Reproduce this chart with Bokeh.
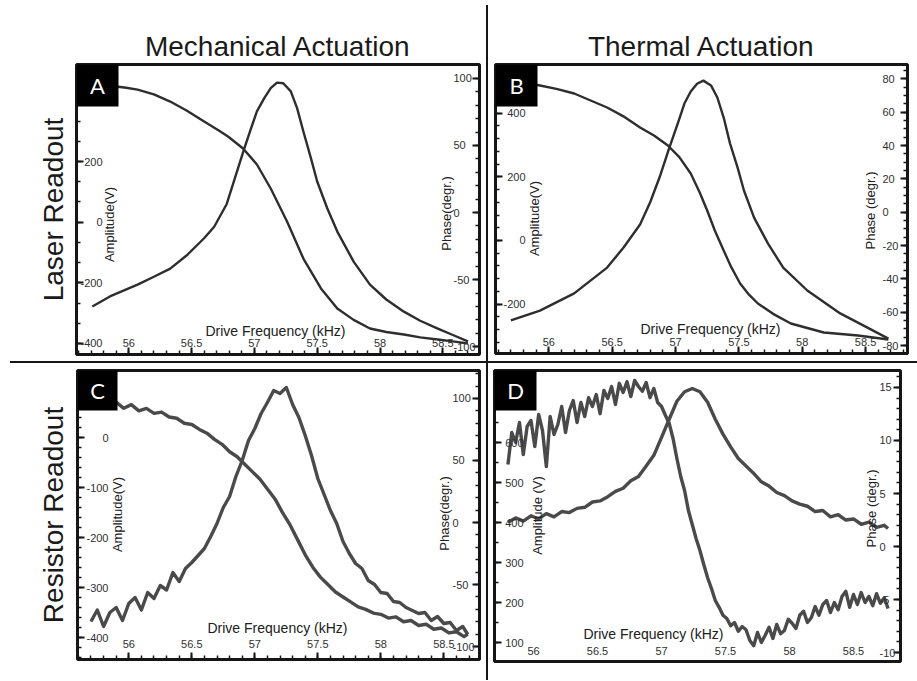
from math import pi
import numpy as np
from bokeh.plotting import figure
from bokeh.models import Range1d, LinearAxis, FixedTicker, Label, BoxAnnotation, Spacer, Title
from bokeh.layouts import column, row
from bokeh.embed import file_html
from bokeh.resources import INLINE

# ---------------- data ----------------
col_titles = ["Mechanical Actuation", "Thermal Actuation"]
row_titles = ["Laser Readout", "Resistor Readout"]
x_ticks = [56, 56.5, 57, 57.5, 58, 58.5]
x_tick_labels = ["56", "56.5", "57", "57.5", "58", "58.5"]

# Panel A (mechanical actuation, laser readout)
A_amp_freq = [55.71, 55.85, 56.07, 56.20, 56.33, 56.46, 56.60, 56.68, 56.78, 56.86, 56.92, 56.97, 57.02, 57.08,
              57.13, 57.18, 57.23, 57.29, 57.34, 57.39, 57.45, 57.50, 57.58, 57.66, 57.79, 57.92, 58.05, 58.19,
              58.32, 58.46, 58.58, 58.70]
A_amp = [-278, -245, -206, -180, -153, -110, -53, -15, 60, 165, 243, 305, 365, 410, 442, 460, 458, 431, 376, 299,
         211, 134, 46, -31, -130, -206, -255, -295, -325, -351, -372, -393]
A_ph_freq = [55.71, 55.85, 55.98, 56.07, 56.20, 56.33, 56.46, 56.60, 56.72, 56.79, 56.91, 57.02, 57.13, 57.26,
             57.39, 57.53, 57.66, 57.79, 57.92, 58.05, 58.19, 58.32, 58.46, 58.58, 58.70]
A_ph = [96.1, 94.5, 93.0, 91.6, 88.0, 82.7, 76.0, 67.8, 61.0, 56.6, 47.7, 35.8, 17.9, -6.7, -34.3, -56.6, -71.5,
        -80.0, -86.4, -89.0, -90.9, -93.0, -94.6, -96.0, -97.6]
A_amp_ticks = [-400, -200, 0, 200]
A_amp_tick_labels = ["-400", "-200", "0", "200"]
A_ph_ticks = [-100, -50, 0, 50, 100]
A_ph_tick_labels = ["-100", "-50", "0", "50", "100"]

# Panel B (thermal actuation, laser readout)
B_amp_freq = [55.70, 55.93, 56.20, 56.46, 56.59, 56.72, 56.80, 56.88, 56.95, 57.02, 57.07, 57.12, 57.17, 57.22,
              57.28, 57.33, 57.38, 57.43, 57.49, 57.54, 57.62, 57.73, 57.85, 58.04, 58.30, 58.56, 58.68]
B_amp = [-251, -220, -166, -85, -22, 50, 120, 205, 290, 370, 430, 468, 492, 502, 487, 449, 386, 305, 229, 157,
         72, -10, -85, -157, -229, -283, -308]
B_ph_freq = [55.70, 55.93, 56.06, 56.20, 56.33, 56.46, 56.60, 56.72, 56.83, 56.94, 57.03, 57.12, 57.19, 57.25,
             57.31, 57.38, 57.44, 57.51, 57.58, 57.65, 57.77, 57.91, 58.17, 58.44, 58.68]
B_ph = [79.0, 76.0, 74.0, 71.2, 67.0, 62.8, 57.0, 50.8, 46.0, 40.0, 33.0, 23.2, 12.0, 1.0, -11.0, -23.0, -33.0,
        -42.8, -49.5, -54.8, -61.0, -66.8, -72.2, -74.0, -76.4]
B_amp_ticks = [-200, 0, 200, 400]
B_amp_tick_labels = ["-200", "0", "200", "400"]
B_ph_ticks = [-80, -60, -40, -20, 0, 20, 40, 60, 80]
B_ph_tick_labels = ["-80", "-60", "-40", "-20", "0", "20", "40", "60", "80"]

# Panel C (mechanical actuation, resistor readout)
C_amp_freq = [55.70, 55.75, 55.80, 55.85, 55.90, 55.95, 56.00, 56.05, 56.10, 56.15, 56.20, 56.25, 56.30, 56.35,
              56.40, 56.45, 56.50, 56.55, 56.60, 56.65, 56.70, 56.75, 56.80, 56.85, 56.90, 56.95, 57.00, 57.05,
              57.10, 57.15, 57.20, 57.25, 57.30, 57.35, 57.40, 57.45, 57.50, 57.55, 57.60, 57.65, 57.70, 57.75,
              57.80, 57.85, 57.90, 57.95, 58.00, 58.05, 58.10, 58.15, 58.20, 58.25, 58.30, 58.35, 58.40, 58.45,
              58.50, 58.55, 58.60, 58.65, 58.69]
C_amp = [-368, -345, -378, -350, -340, -366, -332, -320, -345, -310, -322, -296, -305, -270, -288, -262, -250,
         -236, -222, -198, -172, -140, -118, -78, -46, -6, 18, 48, 70, 94, 88, 100, 66, 40, 4, -36, -82, -114,
         -146, -172, -208, -232, -252, -262, -286, -294, -310, -312, -328, -330, -340, -346, -352, -350, -366,
         -358, -372, -370, -386, -378, -394]
C_ph_freq = [55.72, 55.78, 55.84, 55.90, 55.96, 56.02, 56.08, 56.14, 56.20, 56.26, 56.32, 56.38, 56.44, 56.50,
             56.56, 56.62, 56.68, 56.74, 56.80, 56.86, 56.92, 56.98, 57.04, 57.10, 57.16, 57.22, 57.28, 57.34,
             57.40, 57.46, 57.52, 57.58, 57.64, 57.70, 57.76, 57.82, 57.88, 57.94, 58.00, 58.06, 58.12, 58.18,
             58.24, 58.30, 58.36, 58.42, 58.48, 58.54, 58.60, 58.66, 58.69]
C_ph = [95, 99, 93, 97, 92, 95, 90, 92, 88, 89, 85, 84, 80, 79, 75, 72, 67, 63, 57, 53, 47, 41, 35, 27, 19, 8, -2,
        -14, -26, -36, -44, -50, -56, -60, -64, -68, -70, -73, -74, -77, -76, -80, -79, -83, -82, -86, -85, -89,
        -88, -92, -90]
C_amp_ticks = [-400, -300, -200, -100, 0]
C_amp_tick_labels = ["-400", "-300", "-200", "-100", "0"]
C_ph_ticks = [-100, -50, 0, 50, 100]
C_ph_tick_labels = ["-100", "-50", "0", "50", "100"]

# Panel D (thermal actuation, resistor readout)
D_amp_freq = [55.80, 55.83, 55.86, 55.89, 55.92, 55.95, 55.98, 56.01, 56.04, 56.07, 56.10, 56.13, 56.16, 56.19,
              56.22, 56.25, 56.28, 56.31, 56.34, 56.37, 56.40, 56.43, 56.46, 56.49, 56.52, 56.55, 56.58, 56.61,
              56.64, 56.67, 56.70, 56.73, 56.76, 56.79, 56.82, 56.85, 56.88, 56.91, 56.94, 56.97, 57.00, 57.03,
              57.06, 57.09, 57.12, 57.15, 57.18, 57.21, 57.24, 57.27, 57.30, 57.33, 57.36, 57.39, 57.42, 57.45,
              57.48, 57.51, 57.54, 57.57, 57.60, 57.63, 57.66, 57.69, 57.72, 57.75, 57.78, 57.81, 57.84, 57.87,
              57.90, 57.93, 57.96, 57.99, 58.02, 58.05, 58.08, 58.11, 58.14, 58.17, 58.20, 58.23, 58.26, 58.29,
              58.32, 58.35, 58.38, 58.41, 58.44, 58.47, 58.50, 58.53, 58.56, 58.59, 58.62, 58.65, 58.68, 58.71,
              58.74, 58.77]
D_amp = [545, 625, 600, 650, 570, 640, 655, 590, 670, 630, 540, 665, 620, 645, 690, 625, 680, 705, 650, 700,
         665, 712, 690, 720, 672, 730, 710, 740, 695, 748, 725, 752, 715, 755, 740, 728, 750, 712, 735, 700,
         690, 668, 648, 610, 560, 515, 480, 430, 395, 360, 330, 295, 262, 235, 205, 188, 168, 160, 142, 150,
         128, 140, 132, 105, 92, 125, 100, 118, 138, 110, 145, 122, 130, 158, 148, 135, 168, 178, 150, 162,
         190, 168, 195, 205, 175, 200, 182, 215, 228, 188, 220, 195, 225, 200, 215, 192, 222, 198, 212, 185]
D_ph_freq = [55.80, 55.86, 55.92, 55.98, 56.04, 56.10, 56.16, 56.22, 56.28, 56.34, 56.40, 56.46, 56.52, 56.58,
             56.64, 56.70, 56.76, 56.82, 56.88, 56.94, 57.00, 57.06, 57.12, 57.18, 57.24, 57.30, 57.36, 57.42,
             57.48, 57.54, 57.60, 57.66, 57.72, 57.78, 57.84, 57.90, 57.96, 58.02, 58.08, 58.14, 58.20, 58.26,
             58.32, 58.38, 58.44, 58.50, 58.56, 58.62, 58.68, 58.74, 58.77]
D_ph = [2.3, 2.7, 2.4, 2.9, 2.6, 3.1, 2.8, 3.3, 3.2, 3.6, 3.7, 4.2, 4.3, 4.7, 5.2, 5.5, 6.2, 6.6, 7.6, 8.6, 10.3,
        12.0, 13.7, 14.6, 14.9, 14.6, 13.6, 12.0, 10.6, 9.4, 8.3, 7.6, 6.9, 6.1, 5.7, 5.1, 4.8, 4.3, 4.0, 3.8,
        3.3, 3.4, 2.8, 3.0, 2.5, 2.6, 2.1, 2.3, 1.8, 2.0, 1.7]
D_amp_ticks = [100, 200, 300, 400, 500, 600]
D_amp_tick_labels = ["100", "200", "300", "400", "500", "600"]
D_ph_ticks = [-10, -5, 0, 5, 10, 15]
D_ph_tick_labels = ["-10", "-5", "0", "5", "10", "15"]

INK = "#161616"
FONT = "Liberation Sans"


def key(v):
    return int(v) if float(v).is_integer() else v


def steps(lo, hi, st):
    return [round(float(v), 4) for v in np.arange(lo, hi + st / 2, st)]


def style_axis(ax, ticks, labels, minor, standoff, t_in, t_out):
    ax.ticker = FixedTicker(ticks=ticks, minor_ticks=minor)
    ax.major_label_overrides = {key(t): s for t, s in zip(ticks, labels)}
    ax.axis_line_color = INK
    ax.axis_line_width = 2.5
    ax.major_tick_line_color = INK
    ax.major_tick_line_width = 2
    ax.minor_tick_line_color = INK
    ax.minor_tick_line_width = 1.5
    ax.major_tick_in = t_in
    ax.major_tick_out = t_out
    ax.minor_tick_in = 4 if t_in else 0
    ax.minor_tick_out = 4 if t_out else 0
    ax.major_label_standoff = standoff
    ax.major_label_text_font = FONT
    ax.major_label_text_font_size = "11px"
    ax.major_label_text_color = "#303030"


def label(p, x, y, text, size, angle=0.0, color="#202020", font=FONT):
    p.add_layout(Label(x=x, y=y, x_units="screen", y_units="screen", text=text, angle=angle,
                       text_font_size=size, text_color=color, text_font=font,
                       text_align="center", text_baseline="middle"))


def heading(p, text, side, standoff, offset):
    p.add_layout(Title(text=text, align="center", standoff=standoff, offset=offset,
                       text_font=FONT, text_font_size="28px", text_font_style="normal",
                       text_color="#1a1a1a"), side)


def panel(fw, fh, borders, xr, ylr, yrr, amp_t, amp_l, amp_minor, ph_t, ph_l, ph_minor,
          so_l, so_r, so_b, bottom_out, letter, box_w, box_h, amp_xy, ph_xy, amp_text, ph_text,
          drive_xy, amp_curve, ph_curve, noisy):
    bl, br, bt, bb = borders
    p = figure(frame_width=fw, frame_height=fh, min_border_left=bl, min_border_right=br,
               min_border_top=bt, min_border_bottom=bb, x_range=Range1d(*xr), y_range=Range1d(*ylr),
               x_axis_type=None, y_axis_type=None, output_backend="svg", toolbar_location=None)
    p.extra_y_ranges = {"ph": Range1d(*yrr)}
    p.outline_line_color = INK
    p.outline_line_width = 3
    p.background_fill_color = "white"
    p.border_fill_color = "white"

    xa = LinearAxis(fixed_location=ylr[0])
    style_axis(xa, x_ticks, x_tick_labels, steps(55.6, 58.8, 0.1), so_b,
               0 if bottom_out else 7, 6 if bottom_out else 0)
    p.add_layout(xa, "below")

    la = LinearAxis(fixed_location=xr[0])
    style_axis(la, amp_t, amp_l, amp_minor, so_l, 7, 0)
    p.add_layout(la, "left")

    ra = LinearAxis(fixed_location=xr[1], y_range_name="ph")
    style_axis(ra, ph_t, ph_l, ph_minor, so_r, 7, 0)
    p.add_layout(ra, "right")

    lw = 3.4 if noisy else 2.4
    col = "#4a4a4a" if noisy else "#2e2e2e"
    p.line(amp_curve[0], amp_curve[1], line_width=lw, line_color=col, line_join="round")
    p.line(ph_curve[0], ph_curve[1], line_width=lw, line_color=col, line_join="round", y_range_name="ph")

    p.add_layout(BoxAnnotation(left=0, right=box_w, top=fh + 2, bottom=fh - box_h,
                               left_units="screen", right_units="screen", top_units="screen",
                               bottom_units="screen", fill_color="black", fill_alpha=1.0, line_color=None))
    label(p, box_w / 2, fh - box_h / 2, letter, "22px", color="white", font="Lato")

    label(p, amp_xy[0], amp_xy[1], amp_text, "13px", angle=pi / 2)
    label(p, ph_xy[0], ph_xy[1], ph_text, "13px", angle=pi / 2)
    label(p, drive_xy[0], drive_xy[1], "Drive Frequency (kHz)", "14px")
    return p


pA = panel(403, 290, (76, 7, 63, 8), (55.584, 58.792), (-436.3, 519.8), (-105.8, 110.3),
           A_amp_ticks, A_amp_tick_labels, steps(-400, 500, 200 / 3), A_ph_ticks, A_ph_tick_labels,
           steps(-100, 110, 10), -26, -26, -16, False, "A", 42, 42,
           (33, 130), (370, 141), "Amplitude(V)", "Phase(degr.)", (199, 24),
           (A_amp_freq, A_amp), (A_ph_freq, A_ph), False)
pB = panel(412, 289, (7, 10, 64, 8), (55.579, 58.831), (-354.8, 552.6), (-84.8, 88.6),
           B_amp_ticks, B_amp_tick_labels, steps(-360, 560, 40), B_ph_ticks, B_ph_tick_labels,
           steps(-85, 85, 5), -30, -25, -16, False, "B", 42, 42,
           (39, 135), (375, 143), "Amplitude(V)", "Phase (degr.)", (215, 25),
           (B_amp_freq, B_amp), (B_ph_freq, B_ph), False)
pC = panel(402, 289, (77, 7, 5, 23), (55.593, 58.783), (-444, 134), (-110.4, 122.5),
           C_amp_ticks, C_amp_tick_labels, steps(-440, 120, 20), C_ph_ticks, C_ph_tick_labels,
           steps(-110, 120, 10), -31, -27, -20, False, "C", 40, 40,
           (40, 145), (367, 146), "Amplitude(V)", "Phase(degr.)", (200, 32),
           (C_amp_freq, C_amp), (C_ph_freq, C_ph), True)
pD = panel(406, 291, (6, 17, 7, 19), (55.695, 58.867), (52.5, 780), (-10.84, 16.6),
           D_amp_ticks, D_amp_tick_labels, steps(50, 780, 50), D_ph_ticks, D_ph_tick_labels,
           steps(-10, 16, 1), -29, -21, -21, True, "D", 42, 40,
           (43, 146), (377, 153), "Amplitude (V)", "Phase (degr.)", (159, 28),
           (D_amp_freq, D_amp), (D_ph_freq, D_ph), True)

# column and row headings
heading(pA, col_titles[0], "above", 5, -9)
heading(pB, col_titles[1], "above", 6, -7)
heading(pA, row_titles[0], "left", 16, 0)
heading(pC, row_titles[1], "left", 17, 0)

sep = {"background-color": INK}
vline_top = column(Spacer(width=2, height=5), Spacer(width=2, height=356, styles=sep))
top = row(pA, vline_top, pB)
mid = row(Spacer(width=10, height=2), Spacer(width=907, height=2, styles=sep))
bot = row(pC, Spacer(width=2, height=317, styles=sep), pD)
layout = column(top, mid, bot)

open("out.html", "w").write(file_html(layout, INLINE))
